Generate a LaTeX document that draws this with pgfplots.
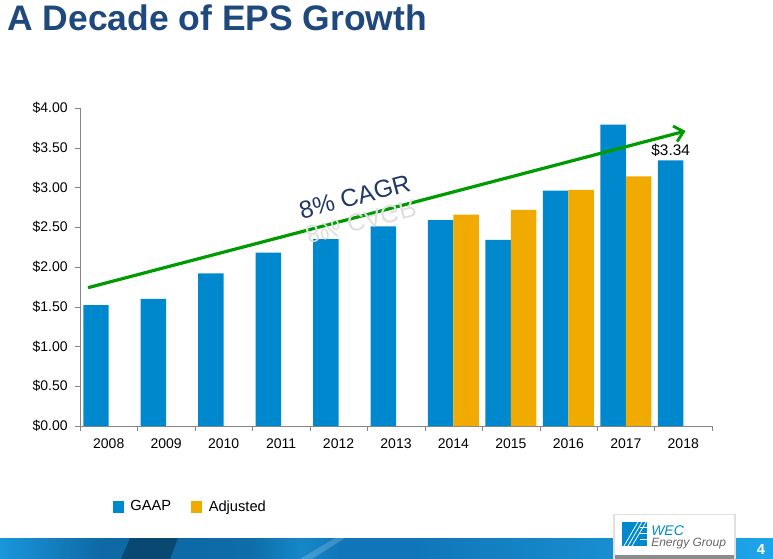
\documentclass[border=0pt]{standalone}
\usepackage{pgfplots}
\pgfplotsset{compat=1.18}
\usepackage{fontspec}
\setmainfont{Liberation Sans}
\usetikzlibrary{arrows.meta}

\definecolor{gaap}{RGB}{0,136,207}
\definecolor{adj}{RGB}{240,170,0}
\definecolor{cagr}{RGB}{0,155,0}
\definecolor{titleblue}{RGB}{31,73,125}
\definecolor{navy}{RGB}{31,56,100}
\definecolor{axisgray}{RGB}{134,134,134}
\definecolor{fa}{RGB}{26,150,220}
\definecolor{fb}{RGB}{14,105,165}
\definecolor{fc}{RGB}{9,72,112}
\definecolor{fd}{RGB}{14,108,168}
\definecolor{fe}{RGB}{22,135,200}
\definecolor{ff}{RGB}{16,118,185}
\definecolor{fg}{RGB}{30,165,235}

\pgfdeclarehorizontalshading{footer}{100bp}{
  color(0bp)=(fa); color(25bp)=(fa); color(31.5bp)=(fb); color(36bp)=(fb);
  color(41bp)=(fd); color(44.5bp)=(fe); color(47bp)=(ff); color(52bp)=(ff);
  color(61bp)=(fe); color(75bp)=(fg); color(100bp)=(fg)}

\begin{document}
\begin{tikzpicture}
\useasboundingbox (0,0) rectangle (579.75pt,-419.25pt);

% page decoration in pixel units (y down)
\begin{scope}[x=0.75pt,y=-0.75pt]
  \node[anchor=base west,inner sep=0pt,text=titleblue,
        font=\fontsize{26.6}{30}\selectfont\bfseries] at (7,31) {A Decade of EPS Growth};
  \shade[shading=footer] (0,538) rectangle (773,559);
  \fill[fc] (130,538) -- (178,538) -- (170,559) -- (121,559) -- cycle;
  \fill[white,opacity=0.18] (300,559) -- (335,538) -- (345,538) -- (312,559) -- cycle;
  \fill[black!12] (613,514) rectangle (736,559);
  \fill[white] (615,515) rectangle (734,555);
  \fill[black!45] (615,555) rectangle (734,559);
  \fill[gaap] (622,522) rectangle (647,546);
  \foreach \d in {0,4,8} {
    \draw[white,line width=0.6pt] (624+\d,546) -- (638+\d,522);
  }
  \foreach \yy in {527,533,539} {
    \draw[white,line width=0.6pt] (640,\yy) -- (647,\yy);
  }
  \node[anchor=base west,inner sep=0pt,text=gaap,
        font=\fontsize{10.5}{12}\selectfont\itshape] at (651,535) {WEC};
  \node[anchor=base west,inner sep=0pt,text=black!60,
        font=\fontsize{9}{11}\selectfont\itshape] at (651,546) {Energy Group};
  \node[text=white,font=\fontsize{11}{12}\selectfont\bfseries] at (761,549) {4};
\end{scope}

\begin{axis}[
  at={(60pt,-319.5pt)}, anchor=south west,
  scale only axis, width=474pt, height=238.5pt,
  xmin=-0.5, xmax=10.5, ymin=0, ymax=4,
  axis x line*=bottom, axis y line*=left,
  axis line style={draw=axisgray,-},
  tick align=outside,
  xtick={0,...,10},
  xticklabels={2008,2009,2010,2011,2012,2013,2014,2015,2016,2017,2018},
  major x tick style={draw=none},
  minor xtick={-0.5,0.5,...,10.5},
  minor tick length=3.5pt,
  minor x tick style={draw=axisgray},
  ytick={0,0.5,...,4},
  yticklabels={\$0.00,\$0.50,\$1.00,\$1.50,\$2.00,\$2.50,\$3.00,\$3.50,\$4.00},
  major tick length=3.75pt,
  ytick style={draw=axisgray},
  /pgf/number format/assume math mode=true,
  tick label style={font=\fontsize{10.5}{12}\selectfont},
  yticklabel style={xshift=-2pt},
  xticklabel style={yshift=-2pt},
  clip=false,
  legend style={at={(0.045,-0.254)}, anchor=west, draw=none, fill=none,
    legend columns=2, font=\fontsize{11}{12}\selectfont,
    /tikz/every odd column/.append style={column sep=3pt},
    /tikz/every even column/.append style={column sep=13pt}},
  legend image code/.code={\fill[#1] (0pt,-4.5pt) rectangle (8.25pt,4.5pt);},
]
\addplot[ybar, bar width=19.1pt, bar shift=-9.55pt, fill=gaap, draw=none]
  coordinates {(0,1.52)(1,1.60)(2,1.92)(3,2.18)(4,2.35)(5,2.51)
               (6,2.59)(7,2.34)(8,2.96)(9,3.79)(10,3.34)};
\addlegendentry{GAAP}
\addplot[ybar, bar width=19.1pt, bar shift=9.55pt, fill=adj, draw=none]
  coordinates {(6,2.66)(7,2.72)(8,2.97)(9,3.14)};
\addlegendentry{Adjusted}

\addplot[forget plot, cagr, line width=2.4pt, no marks,
         -{Straight Barb[length=6.5pt,width=12pt,line width=2.2pt]}]
  coordinates {(-0.36,1.74)(10.04,3.71)};

\node[anchor=base, rotate=14.7, text=navy, inner sep=0pt,
      font=\fontsize{18.5}{20}\selectfont] at (axis cs:4.32,2.78) {8\% CAGR};
\node[anchor=base, rotate=14.7, yscale=-1, text=black!13, inner sep=0pt,
      font=\fontsize{18.5}{20}\selectfont] at (axis cs:4.36,2.675) {8\% CAGR};
\node[font=\fontsize{11.5}{13}\selectfont] at (axis cs:9.78,3.47) {\$3.34};
\end{axis}
\end{tikzpicture}
\end{document}
